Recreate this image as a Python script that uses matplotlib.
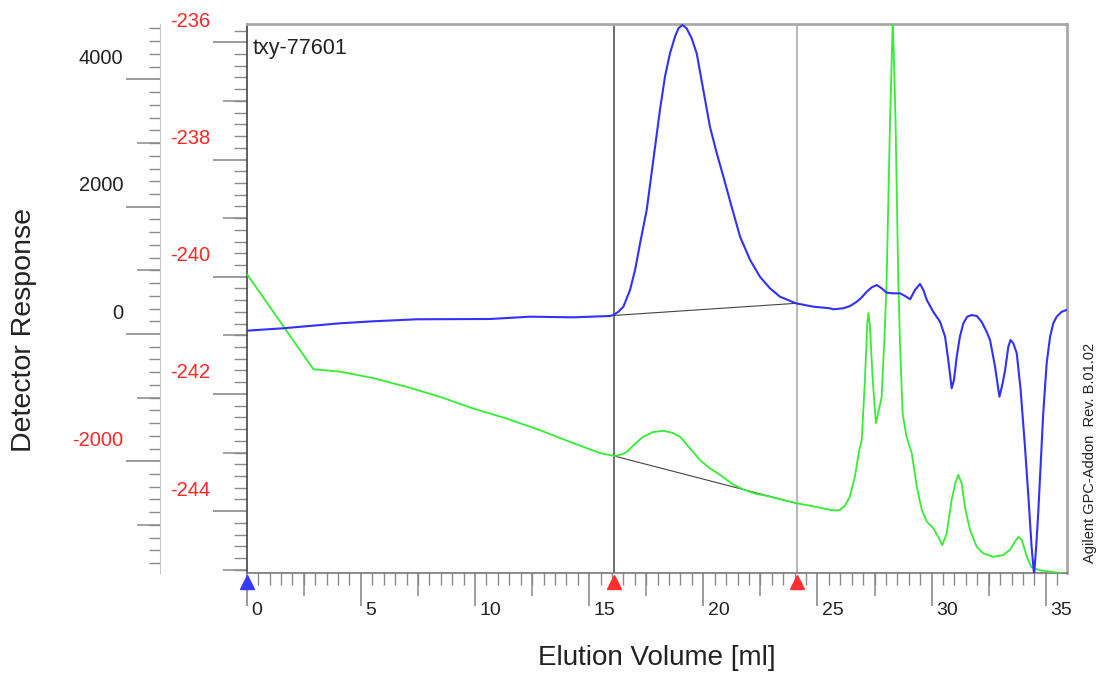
"""GPC chromatogram: detector response vs elution volume, two left-hand y scales."""

import matplotlib

matplotlib.use("Agg")
import matplotlib.pyplot as plt
import matplotlib.transforms as mtransforms
from matplotlib.ticker import MultipleLocator

plt.rcParams["font.family"] = ["Liberation Sans", "DejaVu Sans"]

# blue trace, read against the outer (black) detector-response scale
blue_ml = [0.00, 1.60, 4.09, 5.55, 7.45, 10.66, 12.41, 14.31, 15.91, 16.06,
           16.28, 16.50, 16.79, 17.01, 17.23, 17.52, 17.81, 18.10, 18.32, 18.54,
           18.76, 18.91, 19.08, 19.27, 19.49, 19.71, 20.00, 20.29, 20.59, 20.88,
           21.24, 21.61, 22.05, 22.48, 22.92, 23.36, 24.06, 24.82, 25.54, 25.69,
           26.13, 26.43, 26.72, 26.94, 27.16, 27.38, 27.60, 27.81, 28.03, 28.32,
           28.62, 28.84, 29.06, 29.27, 29.49, 29.64, 29.79, 30.07, 30.37, 30.59,
           30.73, 30.88, 30.98, 31.10, 31.24, 31.39, 31.56, 31.76, 31.98, 32.19,
           32.41, 32.56, 32.78, 32.97, 33.11, 33.22, 33.36, 33.46, 33.58, 33.73,
           33.90, 34.09, 34.24, 34.38, 34.49, 34.58, 34.67, 34.78, 34.89, 35.04,
           35.19, 35.33, 35.48, 35.70, 35.92]
blue_resp = [52, 90, 168, 200, 231, 236, 272, 262, 283, 298,
             350, 429, 691, 1005, 1425, 1948, 2734, 3519, 4043, 4410,
             4671, 4802, 4854, 4802, 4645, 4410, 3833, 3257, 2839, 2471,
             2000, 1529, 1163, 900, 718, 586, 482, 429, 404, 388,
             404, 440, 507, 576, 665, 734, 770, 718, 649, 639,
             639, 597, 545, 691, 786, 691, 534, 350, 193, -42,
             -408, -853, -723, -357, -42, 168, 272, 298, 283, 193,
             36, -94, -514, -985, -776, -566, -199, -94, -146, -303,
             -880, -1771, -2556, -3341, -3790, -3341, -2817, -2032, -1246, -460,
             -42, 168, 272, 350, 377]

# green trace, read against the inner (red) scale
green_ml = [0.00, 2.92, 4.09, 5.55, 7.01, 8.47, 9.93, 11.39, 12.85, 14.31,
            15.48, 16.13, 16.43, 16.65, 17.01, 17.37, 17.81, 18.25, 18.62, 18.98,
            19.42, 19.86, 20.29, 20.73, 21.24, 21.75, 22.26, 22.78, 24.02, 24.97,
            25.69, 25.98, 26.20, 26.42, 26.64, 26.83, 26.94, 27.08, 27.18, 27.23,
            27.30, 27.42, 27.56, 27.66, 27.81, 27.95, 28.03, 28.18, 28.30, 28.42,
            28.54, 28.62, 28.73, 28.90, 29.13, 29.35, 29.57, 29.79, 30.07, 30.29,
            30.47, 30.66, 30.88, 31.03, 31.17, 31.32, 31.46, 31.68, 31.98, 32.26,
            32.70, 33.14, 33.43, 33.65, 33.80, 33.95, 34.17, 34.38, 34.75, 35.92]
green_resp = [-239.95, -241.58, -241.62, -241.73, -241.88, -242.05, -242.25, -242.42, -242.62, -242.84,
              -243.01, -243.06, -243.03, -242.99, -242.85, -242.73, -242.65, -242.63, -242.66, -242.73,
              -242.93, -243.13, -243.27, -243.38, -243.53, -243.63, -243.70, -243.74, -243.86, -243.93,
              -243.99, -243.98, -243.91, -243.75, -243.41, -242.96, -242.79, -241.76, -240.80, -240.62,
              -240.85, -241.76, -242.50, -242.33, -242.05, -240.91, -240.06, -237.33, -235.60, -237.33,
              -240.06, -241.19, -242.33, -242.73, -243.01, -243.58, -243.98, -244.18, -244.29, -244.44,
              -244.58, -244.38, -243.81, -243.53, -243.38, -243.53, -243.93, -244.32, -244.61, -244.72,
              -244.78, -244.75, -244.66, -244.52, -244.44, -244.49, -244.78, -244.96, -245.01, -245.07]

# integration baselines between the peak limits
blue_base_ml = [16.10, 24.06]
blue_base_resp = [292, 482]
green_base_ml = [16.10, 24.02]
green_base_resp = [-243.06, -243.86]

peak_limits = [16.1, 24.1]
run_start = [0.0]
sample_name = "txy-77601"

x_ticks = [0, 5, 10, 15, 20, 25, 30, 35]
x_labels = ["0", "5", "10", "15", "20", "25", "30", "35"]
x_mid_ticks = [2.5, 7.5, 12.5, 17.5, 22.5, 27.5, 32.5]

outer_ticks = [4000, 2000, 0, -2000]
outer_labels = ["4000", "2000", "0", "-2000"]
outer_mid_ticks = [3000, 1000, -1000, -3000]

inner_ticks = [-236, -238, -240, -242, -244]
inner_labels = ["-236", "-238", "-240", "-242", "-244"]
inner_mid_ticks = [-237, -239, -241, -243, -245]

RED = "#ff2626"
TICK = "#8a8a8a"
TXT = "#222222"

fig = plt.figure(figsize=(11.01, 6.75), dpi=100)
ax = fig.add_axes([0.2241, 0.1511, 0.7450, 0.8133])
ax2 = ax.twinx()

# inner (green) scale sits on the plot frame
ax.set_xlim(0, 35.93)
ax.set_ylim(-245.056, -235.688)
ax.set_yticks(inner_ticks)
ax.yaxis.set_minor_locator(MultipleLocator(0.2))
ax.tick_params(axis="y", which="major", length=24.5, width=1.2, color=TICK, labelleft=False)
ax.tick_params(axis="y", which="minor", length=9.1, width=1.0, color=TICK)
ax.set_xticks(x_ticks)
ax.xaxis.set_minor_locator(MultipleLocator(0.5))
ax.tick_params(axis="x", which="major", length=23.8, width=1.2, color=TICK, labelbottom=False)
ax.tick_params(axis="x", which="minor", length=8.6, width=1.0, color=TICK)

for side, col, lw in [("left", "#444444", 1.2), ("bottom", "#777777", 1.2),
                      ("top", "#a8a8a8", 2.0), ("right", "#a8a8a8", 2.0)]:
    ax.spines[side].set_color(col)
    ax.spines[side].set_linewidth(lw)

# outer (blue) scale, moved out to the left
ax2.set_ylim(-3755, 4870)
ax2.yaxis.tick_left()
ax2.spines["left"].set_position(("outward", 62.4))
ax2.spines["left"].set_color("#c8c8c8")
for side in ["top", "right", "bottom"]:
    ax2.spines[side].set_visible(False)
ax2.set_yticks(outer_ticks)
ax2.yaxis.set_minor_locator(MultipleLocator(200))
ax2.tick_params(axis="y", which="major", length=24.5, width=1.2, color=TICK, labelleft=False)
ax2.tick_params(axis="y", which="minor", length=7.6, width=1.0, color=TICK)

# mid-length ticks
sec_in = ax.secondary_yaxis("left")
sec_in.set_yticks(inner_mid_ticks)
sec_in.tick_params(axis="y", length=17.0, width=1.1, color=TICK, labelleft=False, labelright=False)
sec_out = ax2.secondary_yaxis(-0.1057)
sec_out.set_yticks(outer_mid_ticks)
sec_out.tick_params(axis="y", length=16.6, width=1.1, color=TICK, labelleft=False, labelright=False)
sec_x = ax.secondary_xaxis("bottom")
sec_x.set_xticks(x_mid_ticks)
sec_x.tick_params(axis="x", length=16.6, width=1.1, color=TICK, labelbottom=False, labeltop=False)
for s in (sec_in, sec_out, sec_x):
    for sp in s.spines.values():
        sp.set_visible(False)

# tick labels sit a little above / right of their ticks, as in the instrument software
up = mtransforms.ScaledTranslation(0, 0.21, fig.dpi_scale_trans)
right = mtransforms.ScaledTranslation(0.045, 0, fig.dpi_scale_trans)
for v, s in zip(outer_ticks, outer_labels):
    ax2.text(-0.1508, v, s, transform=ax2.get_yaxis_transform() + up, ha="right", va="center",
             fontsize=14.5, color=RED if v < 0 else TXT, clip_on=False)
for v, s in zip(inner_ticks, inner_labels):
    ax.text(-0.0447, v, s, transform=ax.get_yaxis_transform() + up, ha="right", va="center",
            fontsize=14.5, color=RED, clip_on=False)
for v, s in zip(x_ticks, x_labels):
    ax.text(v, -0.0674, s, transform=ax.get_xaxis_transform() + right, ha="left", va="center",
            fontsize=14, color=TXT, clip_on=False)

# peak limits and curves
ax.axvline(peak_limits[0], color="#555555", lw=1.2, zorder=1)
ax.axvline(peak_limits[1], color="#aaaaaa", lw=1.2, zorder=1)
ax.plot(green_base_ml, green_base_resp, color="#444444", lw=0.8, zorder=2)
ax.plot(green_ml, green_resp, color="#33ee33", lw=1.3, zorder=3)
ax2.plot(blue_base_ml, blue_base_resp, color="#444444", lw=0.8, zorder=2)
ax2.plot(blue_ml, blue_resp, color="#3030ff", lw=1.5, zorder=3)

ax.plot(run_start, [-0.0155], marker="^", ms=9.5, color="#3a3aff", ls="none",
        transform=ax.get_xaxis_transform(), clip_on=False, zorder=5)
ax.plot(peak_limits, [-0.0155] * len(peak_limits), marker="^", ms=9.5, color="#ff3030", ls="none",
        transform=ax.get_xaxis_transform(), clip_on=False, zorder=5)

ax.text(0.0077, 0.9563, sample_name, transform=ax.transAxes, ha="left", va="center",
        fontsize=15.5, color=TXT)
fig.text(24 / 1101, 1 - 330 / 675, "Detector Response", rotation=90, ha="center", va="center",
         fontsize=20.5, color=TXT)
fig.text(657 / 1101, 1 - 658 / 675, "Elution Volume [ml]", ha="center", va="center",
         fontsize=20, color=TXT)
fig.text(1090 / 1101, 1 - 453 / 675, "Agilent GPC-Addon  Rev. B.01.02", rotation=90,
         ha="center", va="center", fontsize=10.5, color=TXT)

fig.savefig("out.png", dpi=100)
